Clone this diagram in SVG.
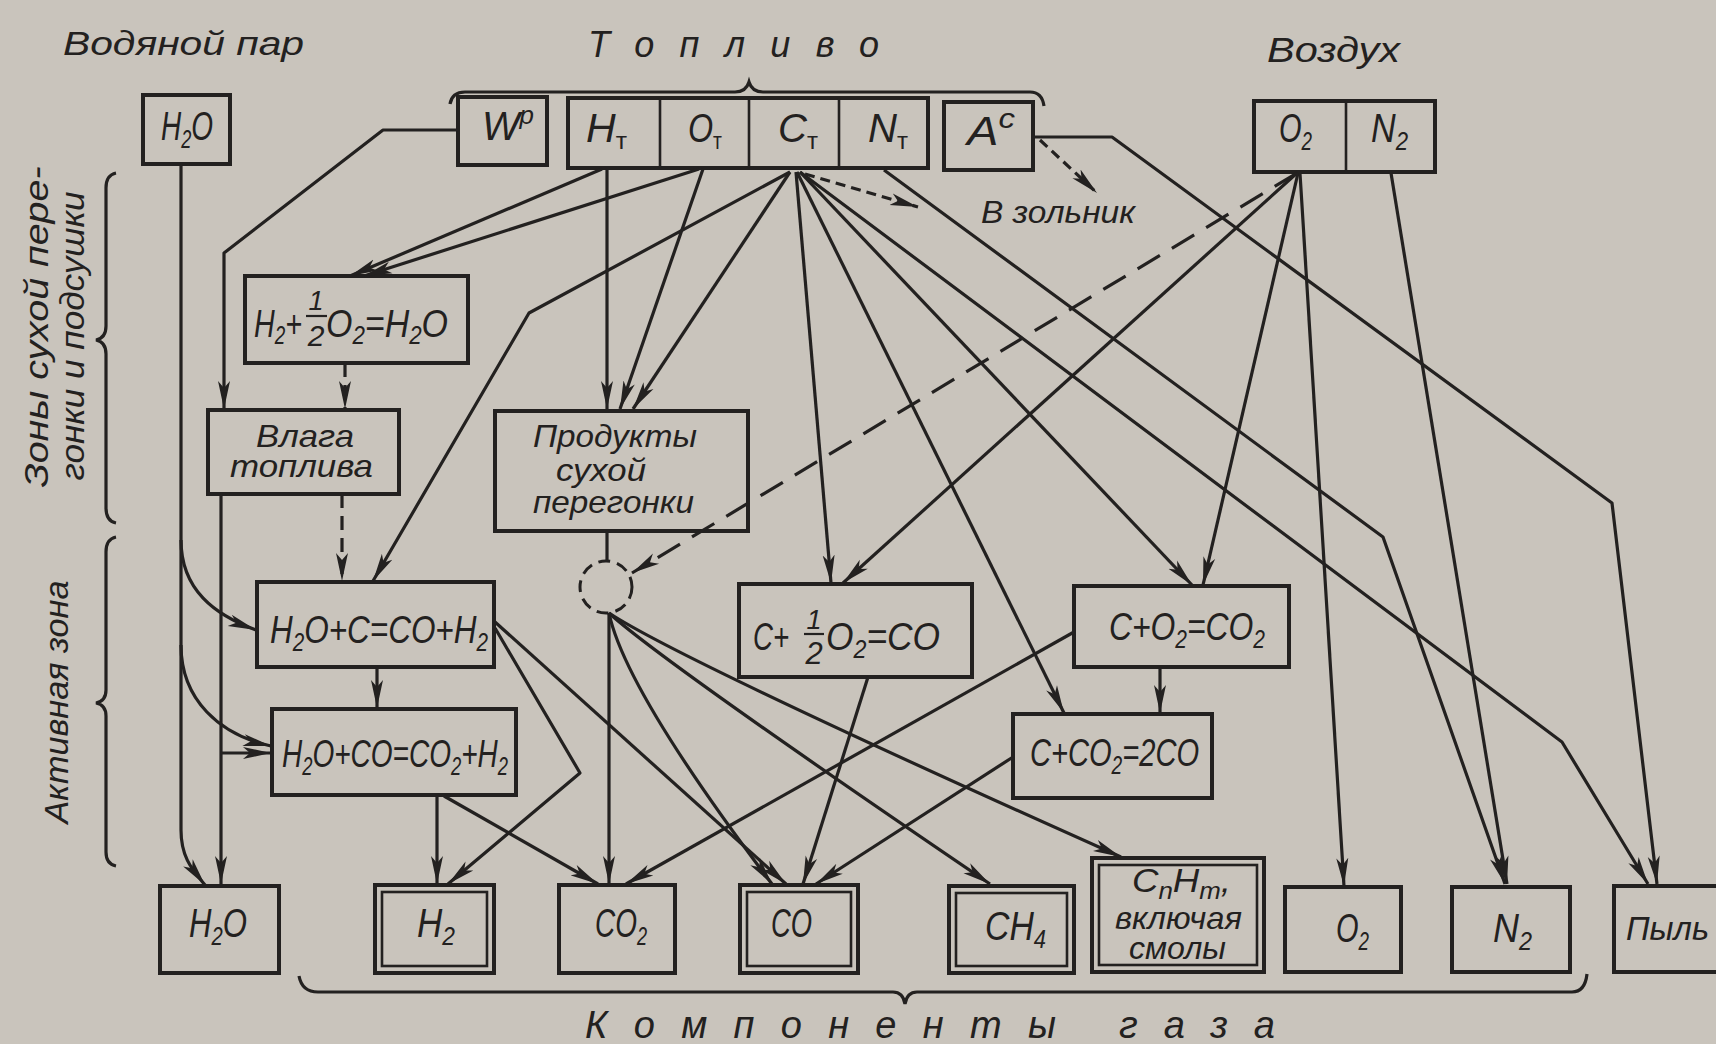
<svg xmlns="http://www.w3.org/2000/svg" width="1716" height="1044" viewBox="0 0 1716 1044">
<style>
.t{font-family:"Liberation Sans Narrow","Liberation Sans",Arial,sans-serif;font-style:italic;fill:#232120}
.u{font-style:normal}
.b{fill:#c9c4bc;stroke:#232120;stroke-width:4}
.i{fill:none;stroke:#232120;stroke-width:2.6}
.c{fill:none;stroke:#232120;stroke-width:3.2;stroke-linejoin:round}
.d{stroke-dasharray:14,8}
.br{fill:none;stroke:#232120;stroke-width:3.2}
</style>
<defs>
<marker id="ah" markerUnits="userSpaceOnUse" markerWidth="30" markerHeight="14" refX="28" refY="7" orient="auto"><path d="M0,1 L28,7 L0,13 L7,7 Z" fill="#232120"/></marker>
</defs>
<rect width="1716" height="1044" fill="#c9c4bc"/>

<g id="titles">
<text class="t" x="63" y="55" font-size="33" textLength="241" lengthAdjust="spacingAndGlyphs">Водяной пар</text>
<text class="t" x="588" y="57" font-size="36" textLength="291">Топливо</text>
<text class="t" x="1267" y="62" font-size="35" textLength="133" lengthAdjust="spacingAndGlyphs">Воздух</text>
<text class="t" x="981" y="223" font-size="32" textLength="154" lengthAdjust="spacingAndGlyphs">В зольник</text>
<text class="t" x="585" y="1038" font-size="38" textLength="690">Компоненты газа</text>
<text class="t" transform="translate(48,327) rotate(-90)" text-anchor="middle" font-size="33" textLength="321" lengthAdjust="spacingAndGlyphs">Зоны сухой пере-</text>
<text class="t" transform="translate(84,336) rotate(-90)" text-anchor="middle" font-size="33" textLength="289" lengthAdjust="spacingAndGlyphs">гонки и подсушки</text>
<text class="t" transform="translate(68,702) rotate(-90)" text-anchor="middle" font-size="34" textLength="243" lengthAdjust="spacingAndGlyphs">Активная зона</text>
</g>

<g id="braces">
<path class="br" d="M450,104 Q452,92 465,92 L735,92 Q746,92 749,82 Q752,92 763,92 L1030,92 Q1042,92 1044,106"/>
<path class="br" d="M116,173 Q106,175 106,188 L106,326 Q106,338 96,340 Q106,342 106,354 L106,508 Q106,521 116,523"/>
<path class="br" d="M116,537 Q106,539 106,552 L106,690 Q106,701 96,703 Q106,705 106,716 L106,852 Q106,864 116,866"/>
<path class="br" d="M299,976 Q302,992 318,992 L893,992 Q903,992 905,1004 Q907,992 917,992 L1572,992 Q1585,992 1587,974"/>
</g>

<g id="n-h2o-in"><rect class="b" x="143" y="95" width="87" height="69"/>
<text class="t" x="161" y="140" font-size="40" textLength="52" lengthAdjust="spacingAndGlyphs">H<tspan font-size="26" dy="8">2</tspan><tspan dy="-8">O</tspan></text></g>
<g id="n-wp"><rect class="b" x="458" y="97" width="89" height="68"/>
<text class="t" x="482" y="140" font-size="40" textLength="52" lengthAdjust="spacingAndGlyphs">W<tspan font-size="26" dy="-16">р</tspan></text></g>
<g id="n-fuel"><rect class="b" x="568" y="98" width="360" height="70"/>
<line class="i" x1="660" y1="98" x2="660" y2="168" stroke-width="4"/><line class="i" x1="749" y1="98" x2="749" y2="168" stroke-width="4"/><line class="i" x1="839" y1="98" x2="839" y2="168" stroke-width="4"/>
<text class="t" x="586" y="142" font-size="40" textLength="41" lengthAdjust="spacingAndGlyphs">H<tspan class="u" font-size="24" dy="7">т</tspan></text>
<text class="t" x="688" y="142" font-size="40" textLength="34" lengthAdjust="spacingAndGlyphs">O<tspan class="u" font-size="24" dy="7">т</tspan></text>
<text class="t" x="778" y="142" font-size="40" textLength="40" lengthAdjust="spacingAndGlyphs">C<tspan class="u" font-size="24" dy="7">т</tspan></text>
<text class="t" x="868" y="142" font-size="40" textLength="40" lengthAdjust="spacingAndGlyphs">N<tspan class="u" font-size="24" dy="7">т</tspan></text></g>
<g id="n-ac"><rect class="b" x="944" y="102" width="89" height="68"/>
<text class="t" x="967" y="145" font-size="40" textLength="48" lengthAdjust="spacingAndGlyphs">A<tspan font-size="28" dy="-17">с</tspan></text></g>
<g id="n-air"><rect class="b" x="1254" y="101" width="181" height="71"/>
<line class="i" x1="1346" y1="101" x2="1346" y2="172" stroke-width="4"/>
<text class="t" x="1279" y="142" font-size="40" textLength="33" lengthAdjust="spacingAndGlyphs">O<tspan font-size="26" dy="8">2</tspan></text>
<text class="t" x="1371" y="142" font-size="40" textLength="37" lengthAdjust="spacingAndGlyphs">N<tspan font-size="26" dy="8">2</tspan></text></g>

<g id="n-r1"><rect class="b" x="245" y="276" width="223" height="87"/>
<text class="t" x="254" y="337" font-size="38" textLength="48" lengthAdjust="spacingAndGlyphs">H<tspan font-size="25" dy="7">2</tspan><tspan dy="-7">+</tspan></text>
<text class="t" x="316" y="310" font-size="27" text-anchor="middle">1</text>
<line x1="306" y1="316" x2="327" y2="316" stroke="#232120" stroke-width="2.2"/>
<text class="t" x="316" y="346" font-size="30" text-anchor="middle">2</text>
<text class="t" x="326" y="337" font-size="38" textLength="122" lengthAdjust="spacingAndGlyphs">O<tspan font-size="25" dy="7">2</tspan><tspan dy="-7">=H</tspan><tspan font-size="25" dy="7">2</tspan><tspan dy="-7">O</tspan></text></g>
<g id="n-vlaga"><rect class="b" x="208" y="410" width="191" height="84"/>
<text class="t" x="256" y="447" font-size="32" textLength="98" lengthAdjust="spacingAndGlyphs">Влага</text>
<text class="t" x="230" y="477" font-size="32" textLength="143" lengthAdjust="spacingAndGlyphs">топлива</text></g>
<g id="n-prod"><rect class="b" x="495" y="411" width="253" height="120"/>
<text class="t" x="533" y="447" font-size="32" textLength="164" lengthAdjust="spacingAndGlyphs">Продукты</text>
<text class="t" x="556" y="481" font-size="32" textLength="90" lengthAdjust="spacingAndGlyphs">сухой</text>
<text class="t" x="533" y="513" font-size="32" textLength="161" lengthAdjust="spacingAndGlyphs">перегонки</text></g>
<g id="n-circle"><circle cx="606" cy="587" r="26" fill="none" stroke="#232120" stroke-width="3" stroke-dasharray="12,7"/></g>
<g id="n-r2"><rect class="b" x="257" y="582" width="237" height="85"/>
<text class="t" x="270" y="643" font-size="38" textLength="218" lengthAdjust="spacingAndGlyphs">H<tspan font-size="25" dy="8">2</tspan><tspan dy="-8">O+C=CO+H</tspan><tspan font-size="25" dy="8">2</tspan></text></g>
<g id="n-r3"><rect class="b" x="272" y="709" width="244" height="86"/>
<text class="t" x="282" y="767" font-size="38" textLength="226" lengthAdjust="spacingAndGlyphs">H<tspan font-size="25" dy="8">2</tspan><tspan dy="-8">O+CO=CO</tspan><tspan font-size="25" dy="8">2</tspan><tspan dy="-8">+H</tspan><tspan font-size="25" dy="8">2</tspan></text></g>
<g id="n-r4"><rect class="b" x="739" y="584" width="233" height="93"/>
<text class="t" x="753" y="650" font-size="38" textLength="36" lengthAdjust="spacingAndGlyphs">C+</text>
<text class="t" x="814" y="629" font-size="27" text-anchor="middle">1</text>
<line x1="804" y1="634" x2="824" y2="634" stroke="#232120" stroke-width="2.2"/>
<text class="t" x="814" y="664" font-size="31" text-anchor="middle">2</text>
<text class="t" x="826" y="650" font-size="38" textLength="114" lengthAdjust="spacingAndGlyphs">O<tspan font-size="25" dy="8">2</tspan><tspan dy="-8">=CO</tspan></text></g>
<g id="n-r5"><rect class="b" x="1074" y="586" width="215" height="81"/>
<text class="t" x="1109" y="640" font-size="38" textLength="156" lengthAdjust="spacingAndGlyphs">C+O<tspan font-size="25" dy="8">2</tspan><tspan dy="-8">=CO</tspan><tspan font-size="25" dy="8">2</tspan></text></g>
<g id="n-r6"><rect class="b" x="1013" y="714" width="199" height="84"/>
<text class="t" x="1030" y="766" font-size="38" textLength="169" lengthAdjust="spacingAndGlyphs">C+CO<tspan font-size="25" dy="8">2</tspan><tspan dy="-8">=2CO</tspan></text></g>

<g id="g-h2o"><rect class="b" x="160" y="886" width="119" height="87"/>
<text class="t" x="189" y="937" font-size="40" textLength="58" lengthAdjust="spacingAndGlyphs">H<tspan font-size="26" dy="8">2</tspan><tspan dy="-8">O</tspan></text></g>
<g id="g-h2"><rect class="b" x="375" y="885" width="119" height="88"/><rect class="i" x="382" y="892" width="105" height="74"/>
<text class="t" x="417" y="937" font-size="40" textLength="38" lengthAdjust="spacingAndGlyphs">H<tspan font-size="26" dy="8">2</tspan></text></g>
<g id="g-co2"><rect class="b" x="559" y="885" width="116" height="88"/>
<text class="t" x="595" y="937" font-size="40" textLength="52" lengthAdjust="spacingAndGlyphs">CO<tspan font-size="26" dy="8">2</tspan></text></g>
<g id="g-co"><rect class="b" x="740" y="885" width="118" height="88"/><rect class="i" x="747" y="892" width="104" height="74"/>
<text class="t" x="771" y="937" font-size="40" textLength="41" lengthAdjust="spacingAndGlyphs">CO</text></g>
<g id="g-ch4"><rect class="b" x="949" y="886" width="125" height="87"/><rect class="i" x="956" y="893" width="111" height="73"/>
<text class="t" x="985" y="940" font-size="40" textLength="61" lengthAdjust="spacingAndGlyphs">CH<tspan font-size="26" dy="8">4</tspan></text></g>
<g id="g-cnhm"><rect class="b" x="1092" y="858" width="172" height="114"/><rect class="i" x="1099" y="865" width="158" height="100"/>
<text class="t" x="1132" y="892" font-size="34" textLength="99" lengthAdjust="spacingAndGlyphs">C<tspan font-size="24" dy="7">n</tspan><tspan dy="-7">H</tspan><tspan font-size="24" dy="7">m</tspan><tspan dy="-7">,</tspan></text>
<text class="t" x="1115" y="929" font-size="32" textLength="127" lengthAdjust="spacingAndGlyphs">включая</text>
<text class="t" x="1129" y="959" font-size="32" textLength="97" lengthAdjust="spacingAndGlyphs">смолы</text></g>
<g id="g-o2"><rect class="b" x="1285" y="887" width="116" height="85"/>
<text class="t" x="1336" y="942" font-size="40" textLength="33" lengthAdjust="spacingAndGlyphs">O<tspan font-size="26" dy="8">2</tspan></text></g>
<g id="g-n2"><rect class="b" x="1452" y="887" width="118" height="85"/>
<text class="t" x="1493" y="942" font-size="40" textLength="39" lengthAdjust="spacingAndGlyphs">N<tspan font-size="26" dy="8">2</tspan></text></g>
<g id="g-dust"><rect class="b" x="1614" y="886" width="110" height="86"/>
<text class="t" x="1626" y="940" font-size="34" textLength="83" lengthAdjust="spacingAndGlyphs">Пыль</text></g>

<g id="connectors" marker-end="url(#ah)">
<path class="c" d="M458,130 L383,130 L224,253 L224,409"/>
<path class="c" d="M221,494 L221,884"/>
<path class="c" d="M221,753 L271,753"/>
<path class="c" d="M181,164 L181,830 C181,860 195,872 205,885"/>
<path class="c" d="M181,540 C181,590 215,615 256,630"/>
<path class="c" d="M181,645 C181,700 220,735 271,746"/>
<path class="c" d="M602,169 L350,276"/>
<path class="c" d="M699,169 L364,276"/>
<path class="c d" d="M345,363 L345,409"/>
<path class="c d" d="M342,494 L342,581"/>
<path class="c" d="M790,172 L529,313 L373,581"/>
<path class="c" d="M607,169 L607,409"/>
<path class="c" d="M703,169 L620,409"/>
<path class="c" d="M790,172 L633,409"/>
<path class="c" d="M607,531 L607,561" marker-end="none"/>
<path class="c" d="M1297,173 L632,573" stroke-dasharray="26,14"/>
<path class="c" d="M609,613 L609,884"/>
<path class="c" d="M609,613 Q625,690 772,884"/>
<path class="c" d="M609,613 Q660,660 990,884"/>
<path class="c" d="M609,613 Q680,660 1121,857"/>
<path class="c" d="M377,667 L377,708"/>
<path class="c" d="M495,628 L580,773 L448,884"/>
<path class="c" d="M495,622 L786,884"/>
<path class="c" d="M437,796 L437,884"/>
<path class="c" d="M444,796 L598,884"/>
<path class="c" d="M796,172 L831,583"/>
<path class="c" d="M1297,173 L843,583"/>
<path class="c" d="M868,677 L803,884"/>
<path class="c" d="M800,172 L1192,585"/>
<path class="c" d="M1298,173 L1203,585"/>
<path class="c" d="M797,172 L1064,713"/>
<path class="c" d="M1160,667 L1160,713"/>
<path class="c" d="M1074,632 L626,884"/>
<path class="c" d="M1013,757 L816,884"/>
<path class="c" d="M1300,173 L1344,886"/>
<path class="c" d="M1391,173 L1507,884"/>
<path class="c" d="M884,170 L1383,537 L1505,884"/>
<path class="c" d="M800,172 L1562,742 L1648,884"/>
<path class="c" d="M1034,137 L1112,137 L1612,503 L1657,884"/>
<path class="c" d="M805,174 L918,207" stroke-dasharray="10,6"/>
<path class="c" d="M1040,140 L1097,193" stroke-dasharray="10,6"/>
</g>
</svg>
